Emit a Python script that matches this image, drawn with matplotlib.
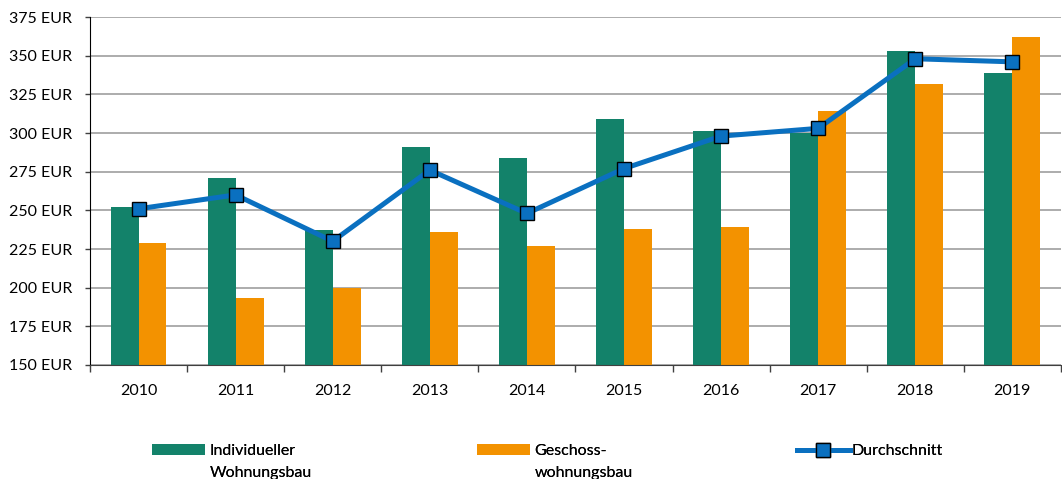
import matplotlib.pyplot as plt
import numpy as np
from matplotlib.offsetbox import HPacker

plt.rcParams['font.family'] = ['Lato', 'DejaVu Sans']

# Daten
jahre = ['2010', '2011', '2012', '2013', '2014', '2015', '2016', '2017', '2018', '2019']
individuell = [252, 271, 237, 291, 284, 309, 301, 300, 353, 339]
geschoss = [229, 193, 200, 236, 227, 238, 239, 314, 332, 362]
durchschnitt = [251, 260, 230, 276, 248, 277, 298, 303, 348, 346]
y_ticks = [150, 175, 200, 225, 250, 275, 300, 325, 350, 375]

gruen = '#13826A'
orange = '#F39200'
blau = '#0A70C0'
fs = 11.5

fig = plt.figure(figsize=(10.62, 4.79), dpi=100)
ax = fig.add_axes([0.0847, 0.238, 0.9143, 0.7265])

x = np.arange(len(jahre))
w = 0.288
b1 = ax.bar(x - w / 2, individuell, w, color=gruen, zorder=2)
b2 = ax.bar(x + w / 2, geschoss, w, color=orange, zorder=2)
l1, = ax.plot(x, durchschnitt, color=blau, lw=3.6, marker='s', ms=10,
              mfc=blau, mec='black', mew=1, zorder=3)

ax.set_xlim(-0.5, len(jahre) - 0.5)
ax.set_ylim(150, 375)
ax.set_yticks(y_ticks)
ax.set_yticklabels([f'{v} EUR' for v in y_ticks])
ax.yaxis.grid(True, color='#A6A6A6', lw=1.3, zorder=0)
ax.set_axisbelow(True)

ax.set_xticks(x)
ax.set_xticklabels(jahre)
ax.set_xticks(np.arange(len(jahre) + 1) - 0.5, minor=True)
ax.tick_params(axis='x', which='major', length=0, pad=14, labelsize=fs)
ax.tick_params(axis='x', which='minor', length=5, width=1, color='#404040')
ax.tick_params(axis='y', length=3.6, width=1, color='#404040', labelsize=fs, pad=9)

for s in ['top', 'right']:
    ax.spines[s].set_visible(False)
ax.spines['left'].set_color('black')
ax.spines['bottom'].set_color('#404040')

# Legende: drei Einträge nebeneinander
eintraege = [
    (b1, 'Individueller\nWohnungsbau', 0.1431, 0.3),
    (b2, 'Geschoss-\nwohnungsbau', 0.4492, 0.3),
    (l1, 'Durchschnitt', 0.7505, 0.1),
]
for h, lab, xp, tp in eintraege:
    leg = fig.legend([h], [lab], loc='upper left', bbox_to_anchor=(xp, 0.073),
                     frameon=False, fontsize=fs, handlelength=3.3,
                     handleheight=0.65, handletextpad=tp, borderpad=0,
                     borderaxespad=0)
    for t in leg.get_texts():
        t.set_linespacing(1.75)
    for hp in leg.findobj(HPacker):
        hp.align = 'top'
    fig.add_artist(leg)

fig.savefig('out.png', dpi=100)
